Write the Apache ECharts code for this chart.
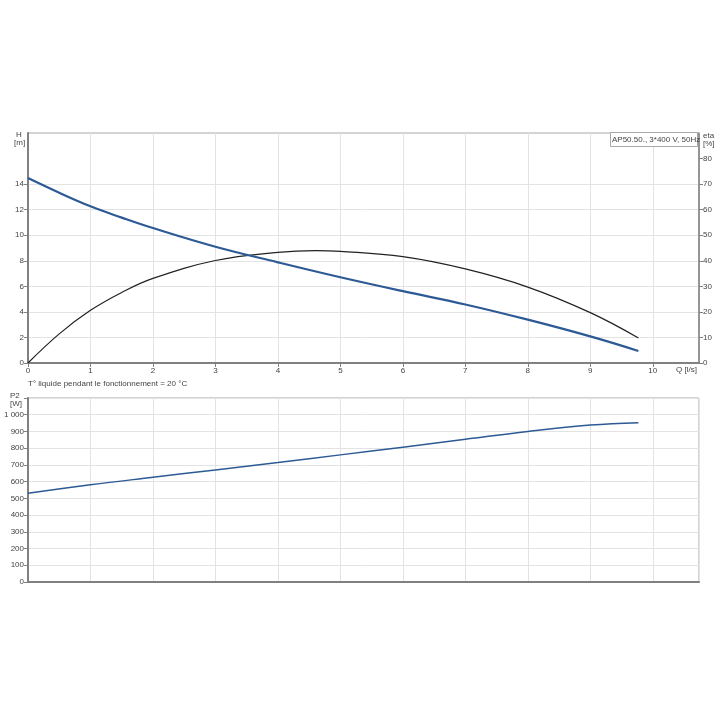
<!DOCTYPE html>
<html>
<head>
<meta charset="utf-8">
<script src="https://cdn.jsdelivr.net/npm/echarts@6/dist/echarts.min.js"></script>
<style>
html,body{margin:0;padding:0;background:#fff;}
#c{width:720px;height:720px;}
</style>
</head>
<body>
<div id="c"></div>
<script>
// ---- data ----
const headQ = [0, 0.5, 1, 1.5, 2, 3, 4, 5, 6, 7, 8, 9, 9.77];
const head = [14.47, 13.32, 12.26, 11.38, 10.56, 9.1, 7.88, 6.71, 5.62, 4.58, 3.39, 2.08, 0.94];
const etaQ = [0, 0.5, 1, 1.5, 2, 3, 4, 4.6, 5, 6, 7, 8, 9, 9.77];
const eta = [0, 11.4, 20.6, 27.6, 33.1, 40.1, 43.3, 44.0, 43.7, 41.6, 36.8, 29.7, 19.7, 9.8];
const powerQ = [0, 1, 2, 3, 4, 5, 6, 7, 8, 9, 9.77];
const power = [530, 581, 626, 670, 714, 760, 806, 853, 900, 938, 952];
const qTicks = [0, 1, 2, 3, 4, 5, 6, 7, 8, 9, 10];
const hTicks = [0, 2, 4, 6, 8, 10, 12, 14];
const etaTicks = [0, 10, 20, 30, 40, 50, 60, 70, 80];
const pTicks = [0, 100, 200, 300, 400, 500, 600, 700, 800, 900, 1000];
const legendText = 'AP50.50., 3*400 V, 50Hz';
const noteText = 'T° liquide pendant le fonctionnement = 20 °C';

const pair = (xs, ys) => xs.map((x, i) => [x, ys[i]]);
const FONT = 'Liberation Sans';
const FS = 8;
const lbl = { fontFamily: FONT, fontSize: FS, color: '#444' };
const gridLine = { show: true, lineStyle: { color: '#e3e3e3', width: 1 } };
const txt = (s, x, y, extra) => Object.assign({ type: 'text', x: x, y: y, z: 11,
  style: { text: s, font: FS + 'px ' + FONT, fill: '#444' } }, extra || {});

const chart = echarts.init(document.getElementById('c'), null, { renderer: 'canvas' });
chart.setOption({
  animation: false,
  backgroundColor: '#fff',
  grid: [
    { left: 28, right: 21, top: 133, height: 230, show: true, borderColor: '#a8a8a8', borderWidth: 1,
      containLabel: false, outerBoundsMode: 'none' },
    { left: 28, right: 21, top: 398, height: 184, show: true, borderColor: '#a8a8a8', borderWidth: 1,
      containLabel: false, outerBoundsMode: 'none' }
  ],
  xAxis: [
    {
      type: 'value', gridIndex: 0, min: 0, max: 10.74, interval: 1,
      axisLine: { show: true, onZero: false, lineStyle: { color: '#808080', width: 2 } },
      axisTick: { show: true, length: 4, lineStyle: { color: '#808080' }, customValues: qTicks },
      axisLabel: Object.assign({ margin: 4, customValues: qTicks }, lbl),
      splitLine: gridLine
    },
    {
      type: 'value', gridIndex: 1, min: 0, max: 10.74, interval: 1,
      axisLine: { show: true, onZero: false, lineStyle: { color: '#808080', width: 2 } },
      axisTick: { show: false },
      axisLabel: { show: false },
      splitLine: gridLine
    }
  ],
  yAxis: [
    {
      type: 'value', gridIndex: 0, min: 0, max: 18, interval: 2, position: 'left',
      axisLine: { show: true, onZero: false, lineStyle: { color: '#808080', width: 2 } },
      axisTick: { show: true, length: 4, lineStyle: { color: '#808080' }, customValues: hTicks },
      axisLabel: Object.assign({ margin: 4, customValues: hTicks }, lbl),
      splitLine: gridLine
    },
    {
      type: 'value', gridIndex: 0, min: 0, max: 90, interval: 10, position: 'right',
      axisLine: { show: true, onZero: false, lineStyle: { color: '#808080', width: 1.5 } },
      axisTick: { show: true, length: 4, lineStyle: { color: '#808080' }, customValues: etaTicks },
      axisLabel: Object.assign({ margin: 4, customValues: etaTicks }, lbl),
      splitLine: { show: false }
    },
    {
      type: 'value', gridIndex: 1, min: 0, max: 1100, interval: 100, position: 'left',
      axisLine: { show: true, onZero: false, lineStyle: { color: '#808080', width: 2 } },
      axisTick: { show: true, length: 4, lineStyle: { color: '#808080' }, customValues: pTicks.concat([1100]) },
      axisLabel: Object.assign({
        margin: 4, customValues: pTicks,
        formatter: v => v >= 1000 ? String(v).replace(/(\d)(\d{3})$/, '$1 $2') : String(v)
      }, lbl),
      splitLine: gridLine
    }
  ],
  series: [
    {
      name: 'H', type: 'line', xAxisIndex: 0, yAxisIndex: 0, smooth: 0.4, symbol: 'none',
      data: pair(headQ, head), lineStyle: { color: '#2d5a94', width: 2.2 }, z: 5
    },
    {
      name: 'eta', type: 'line', xAxisIndex: 0, yAxisIndex: 1, smooth: 0.4, symbol: 'none',
      data: pair(etaQ, eta), lineStyle: { color: '#222', width: 1.2 }, z: 4
    },
    {
      name: 'P2', type: 'line', xAxisIndex: 1, yAxisIndex: 2, smooth: 0.4, symbol: 'none',
      data: pair(powerQ, power), lineStyle: { color: '#2d5a94', width: 1.5 }, z: 5
    }
  ],
  graphic: [
    txt('H', 16, 131),
    txt('[m]', 14, 139),
    txt('eta', 703, 132),
    txt('[%]', 703, 140),
    txt('Q [l/s]', 676, 366),
    txt('P2', 10, 392),
    txt('[W]', 10, 400),
    txt(noteText, 28, 380),
    {
      type: 'rect', shape: { x: 610.5, y: 132.5, width: 87, height: 14 },
      style: { fill: '#fff', stroke: '#a8a8a8', lineWidth: 1 }, z: 10
    },
    txt(legendText, 612, 136)
  ]
});
</script>
</body>
</html>
